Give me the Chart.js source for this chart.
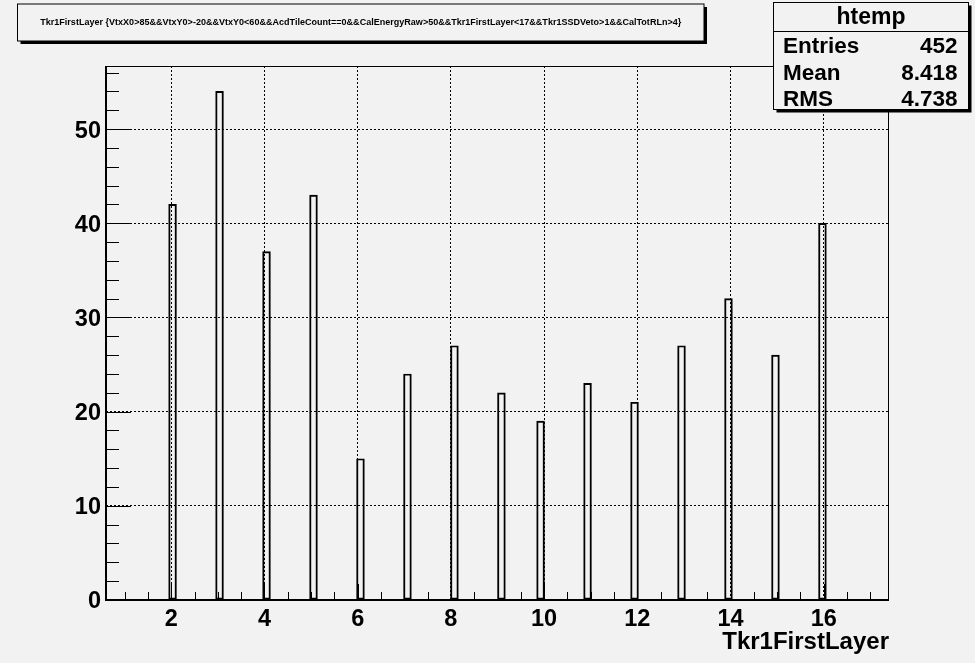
<!DOCTYPE html>
<html>
<head>
<meta charset="utf-8">
<script src="https://cdn.jsdelivr.net/npm/chart.js@4.4.1/dist/chart.umd.min.js"></script>
<style>
html,body{margin:0;padding:0;background:#f2f2f2;}
canvas{display:block;}
</style>
</head>
<body>
<canvas id="c" width="975" height="663"></canvas>
<script>
// ---- data ----
const layers = [2, 3, 4, 5, 6, 7, 8, 9, 10, 11, 12, 13, 14, 15, 16];
const counts = [42, 54, 37, 43, 15, 24, 27, 22, 19, 23, 21, 27, 32, 26, 40];
const xTickValues = [2, 4, 6, 8, 10, 12, 14, 16];
const xTickLabels = ['2', '4', '6', '8', '10', '12', '14', '16'];
const yTickValues = [0, 10, 20, 30, 40, 50];
const yTickLabels = ['0', '10', '20', '30', '40', '50'];
const histName = 'htemp';
const titleText = 'Tkr1FirstLayer {VtxX0>85&&VtxY0>-20&&VtxY0<60&&AcdTileCount==0&&CalEnergyRaw>50&&Tkr1FirstLayer<17&&Tkr1SSDVeto>1&&CalTotRLn>4}';
const xTitle = 'Tkr1FirstLayer';
const statLabels = ['Entries', 'Mean', 'RMS'];
const statValues = ['452', '8.418', '4.738'];
// histogram binning (ROOT htemp: 100 bins over [0.6, 17.4])
const histMin = 0.6, histMax = 17.4, nBins = 100, yMax = 56.7;

const BG = '#f2f2f2';
const FONT = "'Liberation Sans', Arial, Helvetica, sans-serif";
const binW = (histMax - histMin) / nBins;
function binCenter(v) {
  const k = Math.floor((v - histMin) / binW + 1e-9);
  return histMin + (k + 0.5) * binW;
}
const points = layers.map((v, i) => ({ x: binCenter(v), y: counts[i] }));

const rootPlugin = {
  id: 'rootDecor',
  beforeDraw(chart) {
    const c = chart.ctx;
    c.save();
    c.fillStyle = BG;
    c.fillRect(0, 0, chart.width, chart.height);
    c.restore();
  },
  afterDatasetsDraw(chart) {
    const c = chart.ctx;
    const a = chart.chartArea;
    const xs = chart.scales.x, ys = chart.scales.y;
    c.save();
    c.strokeStyle = '#000';
    c.lineWidth = 1;
    // x ticks (inside frame)
    for (let v = 1.0; v <= histMax; v += 0.5) {
      const px = Math.round(xs.getPixelForValue(v)) + 0.5;
      if (px < a.left || px > a.right) continue;
      const major = xTickValues.includes(v);
      const len = major ? 16 : 8;
      c.beginPath(); c.moveTo(px, a.bottom); c.lineTo(px, a.bottom - len); c.stroke();
    }
    // y ticks
    for (let v = 0; v <= yMax; v += 2) {
      const py = Math.round(ys.getPixelForValue(v)) + 0.5;
      const major = yTickValues.includes(v);
      const len = major ? 25 : 13;
      c.beginPath(); c.moveTo(a.left, py); c.lineTo(a.left + len, py); c.stroke();
    }
    // frame
    c.lineWidth = 1;
    c.strokeRect(a.left + 0.5, a.top + 0.5, a.right - a.left - 1, a.bottom - a.top - 1);
    c.lineWidth = 2;
    c.beginPath();
    c.moveTo(a.left, a.top); c.lineTo(a.left, a.bottom); c.lineTo(a.right, a.bottom);
    c.stroke();
    c.restore();
  },
  afterDraw(chart) {
    const c = chart.ctx;
    c.save();
    // ---- title box ----
    const tx = 17.5, ty = 4, tw = 686.5, th = 37;
    c.fillStyle = '#000';
    c.fillRect(tx + 3, ty + 3, tw, th);
    c.fillStyle = BG;
    c.fillRect(tx, ty, tw, th);
    c.strokeStyle = '#000';
    c.lineWidth = 1;
    c.strokeRect(tx, ty, tw, th);
    c.fillStyle = '#000';
    c.font = 'bold 8.5px ' + FONT;
    c.textBaseline = 'alphabetic';
    c.textAlign = 'center';
    const nat = c.measureText(titleText).width;
    const target = 641;
    c.save();
    c.translate(tx + tw / 2, 25);
    c.scale(target / nat, 1.15);
    c.fillText(titleText, 0, 0);
    c.restore();

    // ---- stats box ----
    const sx = 773.5, sy = 2.5, sw = 195, sh = 107;
    c.fillStyle = '#000';
    c.fillRect(sx + 3, sy + 3, sw, sh);
    c.fillStyle = BG;
    c.fillRect(sx, sy, sw, sh);
    c.strokeStyle = '#000';
    c.lineWidth = 1;
    c.strokeRect(sx, sy, sw, sh);
    c.beginPath(); c.moveTo(sx, 31.5); c.lineTo(sx + sw, 31.5); c.stroke();
    c.fillStyle = '#000';
    c.font = 'bold 23px ' + FONT;
    c.textAlign = 'center';
    c.fillText(histName, sx + sw / 2, 24);
    c.font = 'bold 22.5px ' + FONT;
    const base = [53, 79.5, 106.3];
    for (let i = 0; i < statLabels.length; i++) {
      c.textAlign = 'left';
      c.fillText(statLabels[i], 783, base[i]);
      c.textAlign = 'right';
      c.fillText(statValues[i], 957.5, base[i]);
    }
    c.restore();
  }
};

const tickFont = { family: FONT, weight: 'bold', size: 23.5 };

const chart = new Chart(document.getElementById('c').getContext('2d'), {
  type: 'bar',
  data: {
    datasets: [{
      data: points,
      backgroundColor: 'rgba(0,0,0,0)',
      borderColor: '#000',
      borderWidth: 1.3,
      borderSkipped: false,
      barThickness: 7.8,
      grouped: false
    }]
  },
  options: {
    responsive: false,
    animation: false,
    events: [],
    layout: { padding: { left: 0, top: 66, right: 86, bottom: 0 } },
    plugins: { legend: { display: false }, tooltip: { enabled: false }, title: { display: false } },
    scales: {
      x: {
        type: 'linear',
        min: histMin, max: histMax,
        offset: false,
        afterFit(s) { s.height = 63; },
        afterBuildTicks(s) { s.ticks = xTickValues.map(v => ({ value: v })); },
        ticks: {
          font: tickFont, color: '#000', padding: 5, autoSkip: false, maxRotation: 0,
          callback: (v) => xTickLabels[xTickValues.indexOf(v)]
        },
        grid: { color: '#000', lineWidth: 1, drawTicks: false, offset: false },
        border: { display: false, dash: [2, 2] },
        title: {
          display: true, text: xTitle, align: 'end', color: '#000',
          font: { family: FONT, weight: 'bold', size: 24 },
          padding: { top: 0, bottom: 6 }
        }
      },
      y: {
        type: 'linear',
        min: 0, max: yMax,
        afterFit(s) { s.width = 106; },
        afterBuildTicks(s) { s.ticks = yTickValues.map(v => ({ value: v })); },
        ticks: {
          font: tickFont, color: '#000', padding: 5, labelOffset: 2,
          callback: (v) => yTickLabels[yTickValues.indexOf(v)]
        },
        grid: { color: '#000', lineWidth: 1, drawTicks: false },
        border: { display: false, dash: [2, 2] }
      }
    }
  },
  plugins: [rootPlugin]
});

// bar width = one histogram bin, measured through the x scale
const xs = chart.scales.x;
chart.data.datasets[0].barThickness = Math.abs(xs.getPixelForValue(histMin + binW) - xs.getPixelForValue(histMin));
chart.update();
</script>
</body>
</html>
